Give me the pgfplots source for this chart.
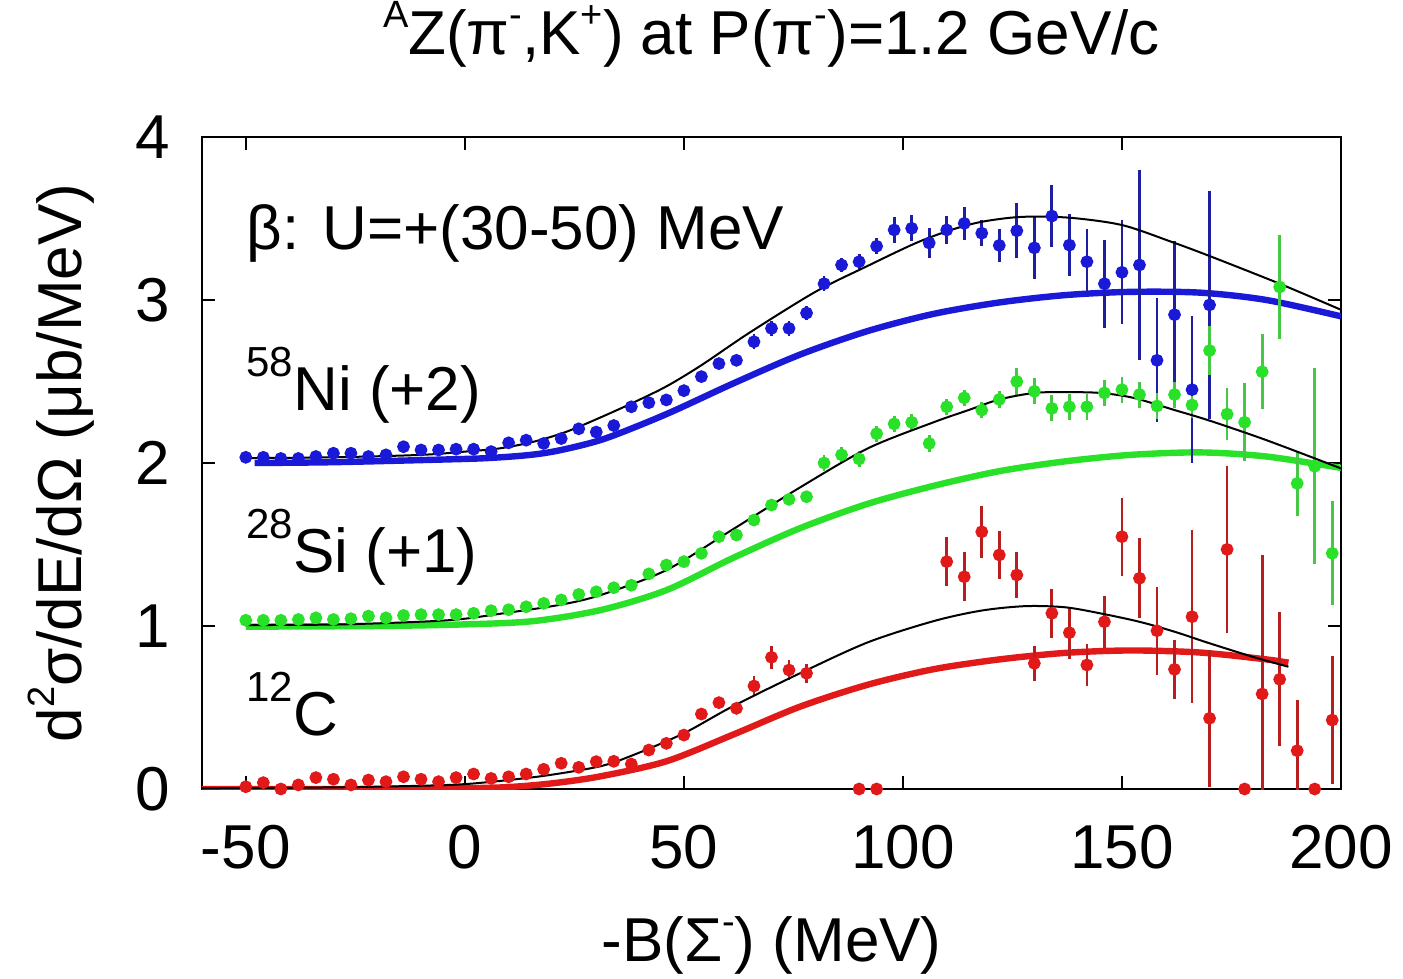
\documentclass[border=0pt]{standalone}
\usepackage{pgfplots}
\usepackage{pgfplotstable}
\pgfplotsset{compat=1.18}
\usepackage{fontspec}
\setmainfont{Liberation Sans}

\definecolor{niblue}{RGB}{25,25,215}
\definecolor{nibar}{RGB}{30,30,160}
\definecolor{sigreen}{RGB}{40,225,40}
\definecolor{sibar}{RGB}{70,200,70}
\definecolor{cred}{RGB}{225,25,25}
\definecolor{cbar}{RGB}{185,30,30}

\newcommand{\bigf}{\fontsize{15.5}{18}\selectfont}
\newcommand{\up}[1]{\raisebox{0.45em}{\fontsize{9.5}{10}\selectfont #1}}
\newcommand{\iso}[1]{\raisebox{8.5pt}{\fontsize{10.5}{11}\selectfont #1}}

% 58Ni (+2): x  y  error
\pgfplotstableread{
x y e
-50 2.035 0.012
-46 2.035 0.012
-42 2.028 0.012
-38 2.028 0.012
-34 2.040 0.012
-30 2.060 0.012
-26 2.060 0.012
-22 2.040 0.012
-18 2.050 0.012
-14 2.100 0.012
-10 2.080 0.012
-6 2.080 0.012
-2 2.085 0.012
2 2.085 0.012
6 2.070 0.012
10 2.124 0.015
14 2.140 0.015
18 2.120 0.015
22 2.150 0.015
26 2.210 0.015
30 2.190 0.015
34 2.230 0.015
38 2.345 0.03
42 2.370 0.03
46 2.387 0.03
50 2.444 0.03
54 2.530 0.03
58 2.610 0.03
62 2.630 0.03
66 2.744 0.045
70 2.826 0.045
74 2.826 0.045
78 2.920 0.045
82 3.100 0.045
86 3.215 0.045
90 3.235 0.045
94 3.330 0.05
98 3.430 0.08
102 3.440 0.08
106 3.350 0.09
110 3.430 0.085
114 3.470 0.10
118 3.410 0.08
122 3.335 0.10
126 3.425 0.17
130 3.320 0.19
134 3.515 0.19
138 3.337 0.19
142 3.235 0.20
146 3.100 0.27
150 3.170 0.32
154 3.215 0.58
158 2.630 0.38
162 2.910 0.45
166 2.450 0.45
170 2.970 0.70
}\nidata

% 28Si (+1)
\pgfplotstableread{
x y e
-50 1.035 0.012
-46 1.035 0.012
-42 1.035 0.012
-38 1.040 0.012
-34 1.050 0.012
-30 1.040 0.012
-26 1.045 0.012
-22 1.061 0.012
-18 1.050 0.012
-14 1.065 0.012
-10 1.070 0.012
-6 1.070 0.012
-2 1.070 0.012
2 1.078 0.012
6 1.094 0.012
10 1.100 0.015
14 1.118 0.015
18 1.139 0.015
22 1.160 0.015
26 1.194 0.015
30 1.210 0.015
34 1.235 0.015
38 1.250 0.03
42 1.320 0.03
46 1.374 0.03
50 1.395 0.03
54 1.446 0.03
58 1.548 0.03
62 1.558 0.03
66 1.650 0.03
70 1.742 0.03
74 1.777 0.03
78 1.793 0.03
82 2.000 0.05
86 2.050 0.05
90 2.025 0.05
94 2.180 0.05
98 2.240 0.05
102 2.250 0.05
106 2.120 0.05
110 2.345 0.05
114 2.400 0.05
118 2.325 0.05
122 2.390 0.05
126 2.500 0.08
130 2.440 0.08
134 2.335 0.08
138 2.345 0.08
142 2.345 0.08
146 2.430 0.08
150 2.450 0.08
154 2.420 0.08
158 2.350 0.08
162 2.420 0.08
166 2.356 0.08
170 2.690 0.15
174 2.300 0.16
178 2.250 0.24
182 2.560 0.23
186 3.080 0.32
190 1.875 0.20
194 1.980 0.60
198 1.446 0.32
}\sidata

% 12C
\pgfplotstableread{
x y e
-50 0.014 0.012
-46 0.039 0.012
-42 0.000 0.012
-38 0.025 0.012
-34 0.070 0.012
-30 0.060 0.012
-26 0.025 0.012
-22 0.055 0.012
-18 0.045 0.012
-14 0.075 0.012
-10 0.060 0.012
-6 0.045 0.012
-2 0.070 0.012
2 0.092 0.012
6 0.065 0.012
10 0.075 0.015
14 0.092 0.015
18 0.121 0.015
22 0.158 0.015
26 0.133 0.015
30 0.168 0.015
34 0.170 0.015
38 0.153 0.03
42 0.239 0.03
46 0.280 0.03
50 0.331 0.03
54 0.460 0.03
58 0.530 0.03
62 0.495 0.03
66 0.632 0.06
70 0.808 0.07
74 0.730 0.06
78 0.710 0.06
90 0.000 0.0
94 0.000 0.0
110 1.395 0.15
114 1.302 0.15
118 1.578 0.16
122 1.436 0.15
126 1.313 0.14
130 0.771 0.107
134 1.078 0.15
138 0.959 0.16
142 0.761 0.13
146 1.026 0.16
150 1.548 0.24
154 1.293 0.245
158 0.971 0.27
162 0.734 0.18
166 1.057 0.53
170 0.434 0.42
174 1.470 0.51
178 0.000 0.0
182 0.583 0.85
186 0.673 0.41
190 0.235 0.31
194 0.000 0.0
198 0.423 0.39
}\cdata

\begin{document}
\begin{tikzpicture}
\useasboundingbox (-50.5pt,-47.25pt) rectangle (300.25pt,197.25pt);
\begin{axis}[
    scale only axis, width=284.75pt, height=163pt,
    xmin=-60, xmax=200, ymin=0, ymax=4,
    xtick={-50,0,50,100,150,200}, ytick={0,1,2,3,4},
    tick align=inside, major tick length=3.2pt,
    axis line style={line width=0.6pt},
    every tick/.style={black, line width=0.6pt},
    /pgf/number format/assume math mode=true,
    tick label style={font=\bigf},
    xticklabel style={yshift=-5.5pt},
    yticklabel style={xshift=-4.5pt},
    title={\up{A}Z(π\up{-},K\up{+}) at P(π\up{-})=1.2 GeV/c},
    title style={font=\bigf, at={(axis description cs:0.5,1.089)}, anchor=base},
    xlabel={-B(Σ\up{-}) (MeV)},
    xlabel style={font=\bigf, at={(axis description cs:0.5,-0.2653)}, anchor=base},
    ylabel={d\up{2}σ/dE/dΩ (μb/MeV)},
    ylabel style={font=\bigf, at={(axis description cs:-0.1054,0.5)}, anchor=base},
]
% calculated spectra (thick)
\addplot[niblue, line width=1.6pt, smooth] coordinates {
(-48,2.00) (-30,2.005) (-7,2.02) (5,2.03) (15,2.05) (22,2.08) (32,2.15) (46,2.30) (61,2.485) (76.5,2.665) (92,2.81) (107,2.915) (122,2.985) (137,3.03) (152,3.05) (168,3.045) (183,3.0) (200,2.90)};
\addplot[sigreen, line width=1.6pt, smooth] coordinates {
(-50,0.996) (-20,1.0) (0,1.01) (15.6,1.03) (31,1.098) (46,1.22) (61,1.415) (76.5,1.60) (92,1.75) (107,1.86) (122,1.95) (137,2.01) (152,2.05) (168,2.065) (183,2.04) (200,1.97)};
\addplot[cred, line width=1.6pt, smooth] coordinates {
(-60,0.0) (-20,0.0) (0,0.005) (10,0.012) (20,0.035) (31,0.078) (46,0.17) (61,0.331) (76.5,0.505) (92,0.64) (107,0.735) (122,0.795) (137,0.835) (152,0.85) (168,0.837) (183,0.795) (188,0.775)};
% data
\addplot[only marks, mark=*, mark size=1.4pt, color=niblue,
    error bars/.cd, y dir=both, y explicit, error mark=none,
    error bar style={line width=0.7pt, color=nibar}]
    table[x=x, y=y, y error=e] {\nidata};
\addplot[only marks, mark=*, mark size=1.4pt, color=sigreen,
    error bars/.cd, y dir=both, y explicit, error mark=none,
    error bar style={line width=0.7pt, color=sibar}]
    table[x=x, y=y, y error=e] {\sidata};
\addplot[only marks, mark=*, mark size=1.4pt, color=cred,
    error bars/.cd, y dir=both, y explicit, error mark=none,
    error bar style={line width=0.7pt, color=cbar}]
    table[x=x, y=y, y error=e] {\cdata};
% thin black curves
\addplot[black, line width=0.5pt, smooth] coordinates {
(-50,2.03) (-30,2.035) (-10,2.05) (0,2.07) (8,2.09) (15.6,2.13) (23,2.19) (31,2.28) (38.4,2.37) (46,2.47) (54,2.60) (65,2.80) (80,3.05) (92,3.21) (103,3.35) (111,3.43) (118,3.48) (127,3.51) (138,3.505) (150,3.46) (161,3.36) (170,3.27) (186,3.10) (200,2.94)};
\addplot[black, line width=0.5pt, smooth] coordinates {
(-50,1.006) (-28,1.01) (-4,1.035) (8,1.075) (21.7,1.13) (31,1.19) (46,1.343) (61,1.59) (76.5,1.85) (92,2.09) (107,2.25) (115,2.325) (122,2.39) (130,2.43) (137,2.435) (145,2.43) (152.6,2.40) (162,2.325) (170,2.26) (183,2.14) (200,1.967)};
\addplot[black, line width=0.5pt, smooth] coordinates {
(-60,0.004) (-30,0.01) (-10,0.02) (0,0.03) (10,0.055) (19.4,0.086) (31,0.14) (38.5,0.209) (50,0.342) (61,0.505) (76.5,0.71) (92,0.90) (107,1.03) (118,1.095) (128,1.122) (137,1.115) (145,1.078) (154,1.026) (162,0.965) (170,0.894) (180,0.81) (188,0.75)};
% annotations
\node[anchor=base west, inner sep=0pt, font=\bigf] at (axis cs:-50,3.307) {β: U=+(30-50) MeV};
\node[anchor=base west, inner sep=0pt, font=\bigf] at (axis cs:-50,2.325) {\iso{58}Ni (+2)};
\node[anchor=base west, inner sep=0pt, font=\bigf] at (axis cs:-50,1.331) {\iso{28}Si (+1)};
\node[anchor=base west, inner sep=0pt, font=\bigf] at (axis cs:-50,0.331) {\iso{12}C};
\end{axis}
\end{tikzpicture}
\end{document}
